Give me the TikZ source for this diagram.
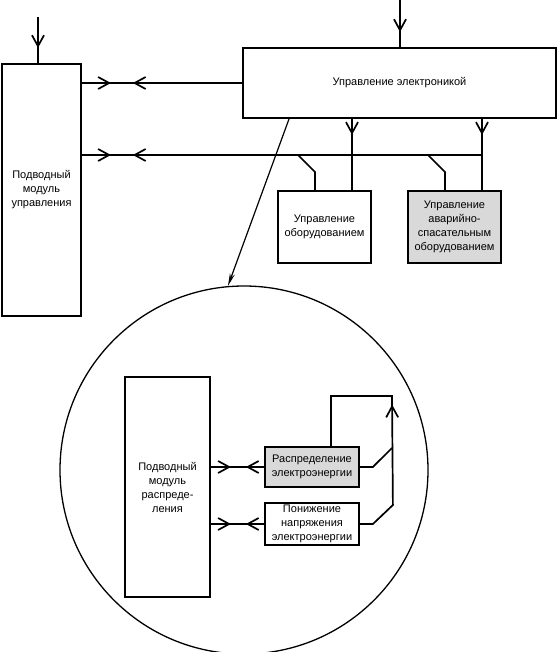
\documentclass[tikz,border=0pt]{standalone}
\usepackage{fontspec}
\setmainfont{Liberation Sans}
\usetikzlibrary{arrows.meta,decorations.markings}
\tikzset{
  barb/.tip={Straight Barb[length=11pt,width=12pt]},
  box/.style={draw, line width=1.8pt, align=center, inner sep=2pt, font=\fontsize{11}{14}\selectfont},
  greybox/.style={box, fill=black!15},
  conn/.style={line width=1.7pt},
  thinconn/.style={line width=1.2pt},
  mkone/.style={postaction={decorate}, decoration={markings, mark=at position #1 with {\arrow{barb}}}},
  pairmk/.style 2 args={postaction={decorate}, decoration={markings,
      mark=at position #1 with {\arrow{barb}},
      mark=at position #2 with {\arrowreversed{barb}}}}
}
\begin{document}
\begin{tikzpicture}[x=1pt,y=-1pt]
\useasboundingbox (0,0) rectangle (558,652);
% nodes
\node[box, minimum width=79pt, minimum height=252pt] (pmu) at (41.5,190) {Подводный\\модуль\\управления};
\node[box, minimum width=313pt, minimum height=70pt] (ue) at (399.5,83) {Управление электроникой};
\node[box, minimum width=93pt, minimum height=72pt] (uo) at (324.5,227) {Управление\\оборудованием};
\node[greybox, minimum width=93pt, minimum height=72pt] (ua) at (454.5,227) {Управление\\аварийно-\\спасательным\\оборудованием};
\node[draw, circle, line width=1.3pt, minimum size=368pt, inner sep=0pt] (circ) at (244,470) {};
\node[box, minimum width=85pt, minimum height=220pt] (pmr) at (167.5,487) {Подводный\\модуль\\распреде-\\ления};
\node[greybox, minimum width=94pt, minimum height=40pt] (rd) at (312,467) {Распределение\\электроэнергии};
\node[box, minimum width=94pt, minimum height=40pt] (pn) at (312,524) {Понижение\\напряжения\\электроэнергии};
% coordinates
\coordinate (in1) at (38,17);
\coordinate (in2) at (400,0);
\coordinate (busR) at (482,155);
\coordinate (v1) at (352,155);
\coordinate (s1) at (298,155);
\coordinate (s2) at (428,155);
\coordinate (d0) at (289,119);
\coordinate (vt) at (392,396);
\coordinate (vl) at (331,396);
\coordinate (k1) at (392,448);
% upper connectors
\draw[conn, mkone=31pt] (in1) -- (in1 |- pmu.north);
\draw[conn, mkone=32pt] (in2) -- (in2 |- ue.north);
\draw[conn, pairmk={29pt}{51pt}] (pmu.east |- ue.west) -- (ue.west);
\draw[conn, pairmk={29pt}{51pt}] (pmu.east |- busR) -- (busR);
\draw[conn, mkone=16pt] (v1 |- ue.south) -- (v1 |- uo.north);
\draw[conn, mkone=16pt] (busR |- ue.south) -- (busR |- ua.north);
\draw[conn] (s1) -- ++(17,17) coordinate (s1b) -- (s1b |- uo.north);
\draw[conn] (s2) -- ++(17,17) coordinate (s2b) -- (s2b |- ua.north);
\draw[thinconn, -{Stealth[length=13pt,width=5pt]}] (d0) -- (circ.95.7);
% inner connectors
\draw[conn, pairmk={20pt}{35pt}] (pmr.east |- rd.west) -- (rd.west);
\draw[conn, pairmk={20pt}{35pt}] (pmr.east |- pn.west) -- (pn.west);
\draw[conn] (rd.east) -- ++(13,0) -- (k1);
\draw[conn, mkone=141pt] (pn.east) -- ++(13,0) -- ++(20,-19) -- (vt) -- (vl) -- (vl |- rd.north);
\end{tikzpicture}
\end{document}
